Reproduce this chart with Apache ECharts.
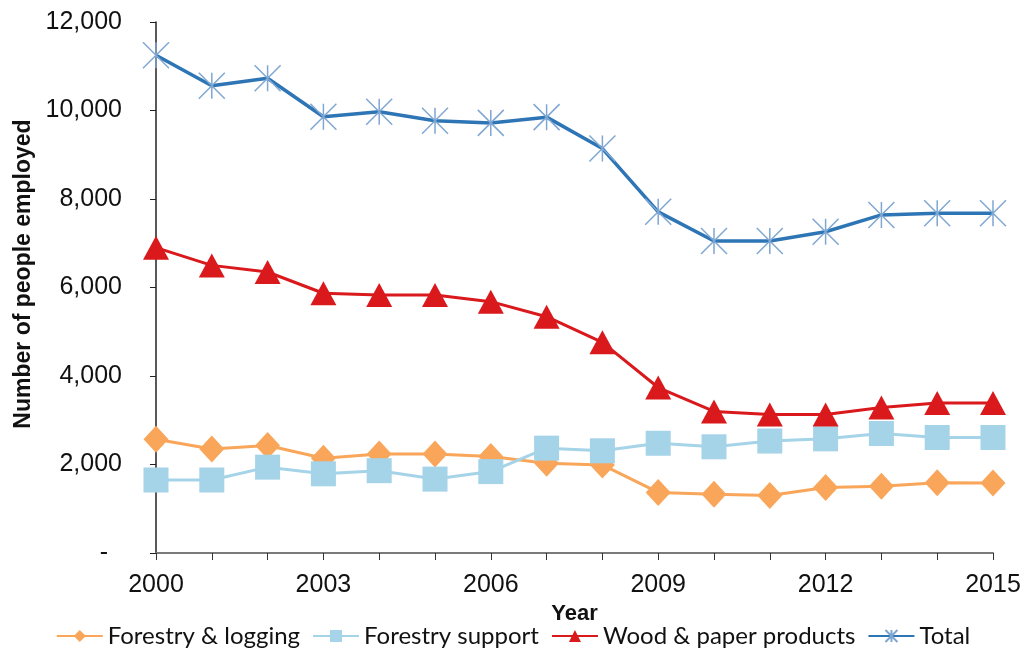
<!DOCTYPE html>
<html>
<head>
<meta charset="utf-8">
<script src="https://cdn.jsdelivr.net/npm/echarts@6/dist/echarts.min.js"></script>
<style>
  html, body { margin: 0; padding: 0; background: #fff; }
  #chart { width: 1026px; height: 648px; }
</style>
</head>
<body>
<div id="chart"></div>
<script>
// Employment in forestry and wood processing, 2000–2015
const years = ['2000','2001','2002','2003','2004','2005','2006','2007',
               '2008','2009','2010','2011','2012','2013','2014','2015'];

const forestryLogging = [2570, 2350, 2430, 2140, 2240, 2240, 2180, 2030,
                         1990, 1370, 1330, 1300, 1480, 1510, 1590, 1580];
const forestrySupport = [1650, 1650, 1940, 1790, 1860, 1670, 1840, 2370,
                         2310, 2480, 2400, 2530, 2580, 2700, 2610, 2610];
const woodPaper       = [6900, 6500, 6350, 5870, 5830, 5830, 5680, 5340,
                         4760, 3740, 3200, 3130, 3130, 3290, 3390, 3390];
const total           = [11250, 10560, 10730, 9860, 9970, 9770, 9720, 9850,
                         9140, 7710, 7050, 7050, 7260, 7640, 7680, 7680];

const yTicks = [0, 2000, 4000, 6000, 8000, 10000, 12000];

// six-spoked asterisk marker
const asterisk = 'path://M13,0 L13,26 M0,0 L26,26 M0,26 L26,0';

const axisFont = 'Liberation Sans, Arial, sans-serif';

const chart = echarts.init(document.getElementById('chart'), null, { renderer: 'canvas' });

chart.setOption({
  animation: false,
  backgroundColor: '#ffffff',
  grid: { left: 156, right: 33, top: 22, bottom: 95, containLabel: false },
  graphic: [{
    type: 'text',
    x: 24,
    y: 274,
    rotation: Math.PI / 2,
    style: {
      text: 'Number of people employed',
      fontFamily: axisFont,
      fontWeight: 'bold',
      fontSize: 23,
      fill: '#111',
      align: 'center',
      verticalAlign: 'middle'
    }
  }],
  legend: {
    top: 619,
    left: 'center',
    itemGap: 12,
    itemWidth: 46,
    itemHeight: 15,
    textStyle: {
      fontFamily: 'Lato, "Open Sans", sans-serif',
      fontSize: 24,
      color: '#111'
    },
    data: ['Forestry & logging', 'Forestry support', 'Wood & paper products', 'Total']
  },
  xAxis: {
    type: 'category',
    data: years,
    boundaryGap: false,
    name: 'Year',
    nameLocation: 'middle',
    nameGap: 44,
    nameTextStyle: { fontFamily: axisFont, fontWeight: 'bold', fontSize: 22, color: '#111' },
    axisLine: { show: true, lineStyle: { color: '#7a7a7a', width: 2 } },
    axisTick: { show: true, interval: 0, length: 7, lineStyle: { color: '#333' } },
    axisLabel: {
      interval: 2,
      margin: 20,
      fontFamily: axisFont,
      fontSize: 25,
      color: '#111'
    },
    splitLine: { show: false }
  },
  yAxis: {
    type: 'value',
    min: yTicks[0],
    max: yTicks[yTicks.length - 1],
    interval: 2000,
    axisLine: { show: true, lineStyle: { color: '#222', width: 1.5 } },
    axisTick: { show: true, length: 6, lineStyle: { color: '#222' } },
    axisLabel: {
      margin: 34,
      fontFamily: axisFont,
      fontSize: 25,
      color: '#111',
      formatter: v => v === 0 ? '-  ' : v.toLocaleString('en-US')
    },
    splitLine: { show: false }
  },
  series: [
    {
      name: 'Forestry & logging',
      type: 'line',
      data: forestryLogging,
      symbol: 'diamond',
      symbolSize: [25, 27],
      lineStyle: { color: '#F9A65A', width: 3 },
      itemStyle: { color: '#F9A65A' },
      z: 2
    },
    {
      name: 'Forestry support',
      type: 'line',
      data: forestrySupport,
      symbol: 'rect',
      symbolSize: [25, 25],
      lineStyle: { color: '#A5D3E8', width: 3 },
      itemStyle: { color: '#A5D3E8' },
      z: 3
    },
    {
      name: 'Wood & paper products',
      type: 'line',
      data: woodPaper,
      symbol: 'triangle',
      symbolSize: [26, 24],
      lineStyle: { color: '#D9191C', width: 3 },
      itemStyle: { color: '#D9191C' },
      z: 4
    },
    {
      name: 'Total',
      type: 'line',
      data: total,
      symbol: asterisk,
      symbolSize: [26, 26],
      lineStyle: { color: '#2E75B6', width: 3.5 },
      itemStyle: { color: 'rgba(0,0,0,0)', borderColor: '#7FA7D2', borderWidth: 1.5 },
      z: 5
    }
  ]
});
</script>
</body>
</html>
